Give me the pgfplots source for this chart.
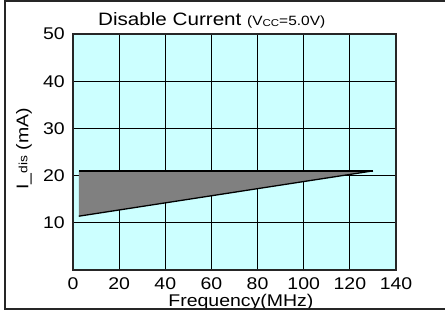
\documentclass[border=0pt]{standalone}
\usepackage{fontspec}
\setmainfont{Liberation Sans}[FakeStretch=1.15]
\usepackage{pgfplots}
\pgfplotsset{compat=1.18}
\definecolor{bgcyan}{RGB}{204,255,255}
\definecolor{fillgray}{RGB}{128,128,128}
\begin{document}
\begin{tikzpicture}[x=1bp,y=1bp]
\path[use as bounding box] (0,0) rectangle (445,311);
\begin{axis}[
  at={(73bp,41bp)}, anchor=south west,
  scale only axis, width=323bp, height=236bp,
  xmin=0, xmax=140, ymin=0, ymax=50,
  xtick={0,20,...,140}, ytick={10,20,...,50},
  grid=major, major grid style={black, line width=0.8bp},
  axis line style={black!85, line width=1.3bp},
  axis background/.style={fill=bgcyan},
  major tick length=0pt,
  /pgf/number format/assume math mode=true,
  ticklabel style={font=\fontsize{17}{20}\selectfont, inner sep=0pt},
  yticklabel style={anchor=east, xshift=-8bp},
  xticklabel style={anchor=north, yshift=-7bp},
  xlabel={Frequency(MHz)},
  xlabel style={at={(rel axis cs:0.52,0)}, anchor=base, yshift=-36bp, inner sep=0pt, font=\fontsize{17}{20}\selectfont},
  ylabel={I\_\raisebox{1bp}{\fontsize{12}{14}\selectfont dis} (mA)},
  ylabel style={at={(axis description cs:-0.1517,0.513)}, anchor=center, inner sep=0pt, font=\fontsize{17}{20}\selectfont},
  title={Disable Current {\fontsize{13.5}{15}\selectfont (V\raisebox{-1.5bp}{\fontsize{10}{12}\selectfont CC}=5.0V)}},
  title style={at={(rel axis cs:0,1)}, anchor=base west, xshift=25bp, yshift=3bp, inner sep=0pt, font=\fontsize{18}{20}\selectfont},
]
\addplot[fill=fillgray, draw=none] coordinates {(2.5,21) (130,21) (2.5,11.4) (2.5,21)};
\addplot[black, line width=1.3bp] coordinates {(2.5,21) (130,21)};
\addplot[black, line width=1.3bp] coordinates {(2.5,11.4) (130,21)};
\end{axis}
\draw[black!85, line width=1.5bp] (460,310) -- (5,310) -- (5,2) -- (460,2);
\end{tikzpicture}
\end{document}
